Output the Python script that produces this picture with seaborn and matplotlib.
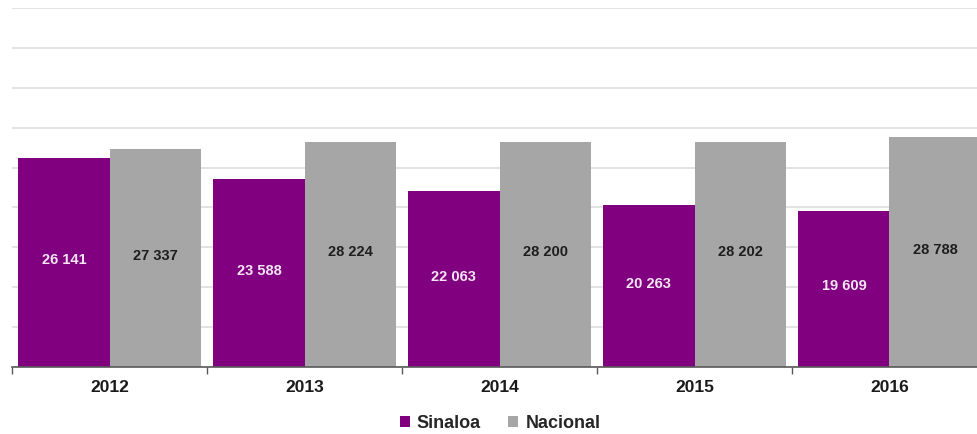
import matplotlib
matplotlib.use("Agg")
import matplotlib.pyplot as plt
import seaborn as sns
import pandas as pd
import numpy as np

# Values per year for the state and national series
years = ["2012", "2013", "2014", "2015", "2016"]
sinaloa = [26141, 23588, 22063, 20263, 19609]
nacional = [27337, 28224, 28200, 28202, 28788]
series_names = ["Sinaloa", "Nacional"]
series_colors = ["#800080", "#a6a6a6"]
label_colors = ["#f4e6f4", "#1e1e1e"]

df = pd.DataFrame({
    "year": years * 2,
    "value": sinaloa + nacional,
    "serie": [series_names[0]] * len(years) + [series_names[1]] * len(years),
})

sns.set_theme(style="white")
plt.rcParams["font.family"] = ["Liberation Sans", "DejaVu Sans"]

fig = plt.figure(figsize=(9.77, 4.34), dpi=100)
ax = fig.add_axes([12 / 977, 67 / 434, 975 / 977, 359 / 434])

sns.barplot(data=df, x="year", y="value", hue="serie", order=years,
            hue_order=series_names, palette=series_colors, width=0.935,
            saturation=1, ax=ax, legend=True, linewidth=0)

ax.set_ylim(0, 45000)
ax.set_xlim(-0.5, len(years) - 0.5)
ax.set_yticks(np.arange(0, 45001, 5000))
ax.yaxis.grid(True, color="#dedede", linewidth=1.2)
ax.set_axisbelow(True)
ax.set_yticklabels([])
ax.tick_params(axis="y", length=0)
ax.set_xlabel("")
ax.set_ylabel("")

for s in ["top", "right", "left"]:
    ax.spines[s].set_visible(False)
ax.spines["bottom"].set_color("#595959")
ax.spines["bottom"].set_linewidth(1.2)

# Category separators as short ticks below the axis
ax.set_xticks(np.arange(-0.5, len(years), 1.0), minor=True)
ax.tick_params(axis="x", which="minor", length=5, width=1, color="#595959",
               direction="out", bottom=True)
ax.tick_params(axis="x", which="major", length=0, pad=9)
for lbl in ax.get_xticklabels():
    lbl.set_fontweight("bold")
    lbl.set_fontsize(12.5)
    lbl.set_color("#1a1a1a")

# Value labels centred inside each bar
def fmt(v):
    return f"{v:,}".replace(",", " ")

for cont, col in zip(ax.containers, label_colors):
    for rect in cont:
        h = rect.get_height()
        ax.text(rect.get_x() + rect.get_width() / 2, h / 2 + 300, fmt(int(round(h))),
                ha="center", va="center", fontsize=10.5, fontweight="bold",
                color=col)

handles, labels = ax.get_legend_handles_labels()
ax.get_legend().remove()
fig.legend(handles, labels, loc="center", bbox_to_anchor=(500 / 977, 1 - 423 / 434),
           ncol=2, frameon=False, handlelength=0.55, handleheight=0.55,
           handletextpad=0.4, columnspacing=1.5,
           prop={"weight": "bold", "size": 13})

fig.savefig("out.png", dpi=100)
